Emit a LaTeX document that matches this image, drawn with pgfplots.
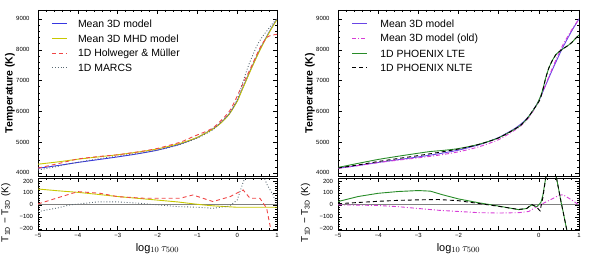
\documentclass[border=0pt]{standalone}
\usepackage{fontspec}
\setmainfont{Liberation Sans}
\usepackage{pgfplots}
\pgfplotsset{compat=1.18}
\definecolor{cblue}{RGB}{55,55,225}
\definecolor{cpurp}{RGB}{105,70,230}
\definecolor{cyel}{RGB}{200,200,0}
\definecolor{cred}{RGB}{240,70,70}
\definecolor{cmarcs}{RGB}{90,105,115}
\definecolor{cmag}{RGB}{215,60,215}
\definecolor{cgreen}{RGB}{40,140,40}
\tikzset{legtext/.style={anchor=west, inner sep=0pt, font=\fontsize{10.5}{11}\selectfont}}

\pgfplotstableread{
x T
-5 4150
-4.5 4240
-4 4340
-3.5 4430
-3 4520
-2.5 4620
-2 4740
-1.5 4910
-1.25 5020
-1 5150
-0.8 5290
-0.6 5440
-0.4 5640
-0.2 5920
0 6340
0.1 6640
0.2 6940
0.3 7240
0.4 7530
0.55 7950
0.7 8330
0.85 8680
1 9000
}\tblue
\pgfplotstableread{
x T d
-5 4283 133
-4.5 4358 118
-4 4445 105
-3.5 4518 88
-3 4590 70
-2.5 4675 55
-2 4780 40
-1.5 4935 25
-1.25 5035 15
-1 5155 5
-0.8 5288 -2
-0.6 5432 -8
-0.4 5628 -12
-0.2 5904 -16
0 6320 -20
0.1 6620 -20
0.2 6920 -20
0.3 7220 -20
0.4 7510 -20
0.55 7930 -20
0.7 8310 -20
0.85 8660 -20
1 8980 -20
}\tmhd
\pgfplotstableread{
x T d
-5 4158 8
-4.5 4300 60
-4 4451 111
-3.44 4538 97
-3 4589 69
-2.36 4710 56
-2 4796 56
-1.43 4997 56
-1.11 5176 83
-0.61 5461 28
-0.18 6031 69
0.15 6915 125
0.32 7354 56
0.57 8056 56
0.74 8395 -28
0.87 8473 -250
1 8500 -500
}\thm
\pgfplotstableread{
x T d
-5 4094 -56
-4.5 4215 -25
-4.2 4300 0
-3.5 4455 25
-3 4545 25
-2.5 4635 15
-2 4740 0
-1.5 4896 -14
-1 5130 -20
-0.6 5412 -28
-0.2 5910 -10
0 6380 40
0.15 6980 190
0.3 7540 300
0.5 8140 330
0.65 8453 250
0.75 8617 170
0.9 8870 83
1 9000 0
}\tmarcs
\pgfplotstableread{
x T d
-5 4150 0
-4.5 4238 -2
-4 4335 -5
-3.5 4415 -15
-3 4490 -30
-2.5 4575 -45
-2 4685 -55
-1.5 4845 -65
-1 5082 -68
-0.5 5475 -65
-0.25 5795 -55
0 6335 -5
0.3 7285 45
0.5 7890 80
0.6 8162 85
0.8 8608 45
1 9000 0
}\told
\pgfplotstableread{
x T d
-5 4178 28
-4.5 4310 70
-4 4437 97
-3.5 4542 112
-3 4640 120
-2.7 4695 115
-2.4 4729 85
-2 4790 50
-1.5 4928 18
-1 5140 -10
-0.5 5500 -40
-0.3 5750 -30
-0.18 5962 0
-0.05 6220 -15
0.05 6510 20
0.1 6720 80
0.17 7075 225
0.25 7410 320
0.35 7685 300
0.44 7867 225
0.5 7930 120
0.55 7980 30
0.6 8027 -50
0.69 8105 -200
0.8 8213 -350
1 8480 -520
}\tlte
\pgfplotstableread{
x T d
-5 4160 10
-4.5 4260 20
-4 4370 30
-3.5 4468 38
-3 4562 42
-2.5 4665 45
-2 4775 35
-1.5 4922 12
-1 5138 -12
-0.5 5502 -38
-0.3 5750 -30
-0.18 5967 5
-0.05 6215 -20
0.03 6380 -50
0.1 6700 60
0.17 7075 225
0.25 7410 320
0.35 7685 300
0.44 7867 225
0.5 7930 120
0.55 7980 30
0.6 8027 -50
0.69 8105 -200
0.8 8213 -350
1 8480 -520
}\tnlte

\pgfplotsset{
  panel/.style={scale only axis, width=239bp, anchor=south west,
    tick align=inside, xmin=-5, xmax=1, xtick={-5,-4,-3,-2,-1,0,1},
    minor x tick num=4, major tick length=4bp, minor tick length=2bp,
    tick label style={font=\fontsize{6}{7}\selectfont},
    every tick/.style={black, line width=0.4pt},
    axis line style={line width=0.6pt},
    every axis plot/.append style={line width=0.9pt},
  },
  toppanel/.style={panel, height=166bp, ymin=3900, ymax=9290,
    ytick={4000,5000,6000,7000,8000,9000},
    yticklabels={4000,5000,6000,7000,8000,9000},
    yticklabel style={xshift=-5bp},
    minor y tick num=4, xticklabels={},
    ylabel={\bfseries Temperature (K)},
    every axis y label/.style={at={(axis description cs:-0.117,0.5)}, rotate=90, anchor=center, font=\fontsize{10.5}{11}\selectfont},
  },
  botpanel/.style={panel, height=52bp, ymin=-210, ymax=225,
    ytick={-200,-100,0,100,200},
    yticklabels={−200,−100,0,100,200},
    yticklabel style={xshift=-1.5bp},
    minor y tick num=4,
    xlabel={log$_{10}\,\tau_{500}$},
    every axis x label/.style={at={(axis description cs:0.5,-0.35)}, anchor=center, font=\fontsize{11}{12}\selectfont},
    ylabel={T$_{\mathrm{1D}}$ − T$_{\mathrm{3D}}$ (K)},
    every axis y label/.style={at={(axis description cs:-0.135,0.33)}, rotate=90, anchor=center, font=\fontsize{10}{11}\selectfont},
  },
}

\begin{document}
\begin{tikzpicture}
\path[use as bounding box] (0,0) rectangle (600bp,256bp);

% left top
\begin{axis}[toppanel, at={(38bp,80bp)}]
\addplot[draw=cblue, smooth, tension=0.4] table[x=x,y=T] {\tblue};
\addplot[draw=cyel, smooth, tension=0.4] table[x=x,y=T] {\tmhd};
\addplot[draw=cred, dash pattern=on 4bp off 3bp, smooth, tension=0.4] table[x=x,y=T] {\thm};
\addplot[draw=cmarcs, dotted, smooth, tension=0.4] table[x=x,y=T] {\tmarcs};
% legend samples
\addplot[draw=cblue] coordinates {(-4.65,8838) (-4.27,8838)};
\addplot[draw=cyel] coordinates {(-4.65,8351) (-4.27,8351)};
\addplot[draw=cred, dash pattern=on 4bp off 3bp] coordinates {(-4.65,7864) (-4.27,7864)};
\addplot[draw=cmarcs, dotted] coordinates {(-4.65,7409) (-4.27,7409)};
\node[legtext] at (axis cs:-4.0,8838) {Mean 3D model};
\node[legtext] at (axis cs:-4.0,8351) {Mean 3D MHD model};
\node[legtext] at (axis cs:-4.0,7864) {1D Holweger \& Müller};
\node[legtext] at (axis cs:-4.0,7409) {1D MARCS};
\end{axis}

% left bottom
\begin{axis}[botpanel, at={(38bp,26bp)}, xticklabels={−5,−4,−3,−2,−1,0,1}]
\addplot[draw=gray, line width=1pt] coordinates {(-5,0) (1,0)};
\addplot[draw=cyel] table[x=x,y=d] {\tmhd};
\addplot[draw=cred, dash pattern=on 4bp off 3bp] table[x=x,y=d] {\thm};
\addplot[draw=cmarcs, dotted] table[x=x,y=d] {\tmarcs};
\end{axis}

% right top
\begin{axis}[toppanel, at={(338bp,80bp)}, width=241bp]
\addplot[draw=cpurp, smooth, tension=0.4] table[x=x,y=T] {\tblue};
\addplot[draw=cmag, dash pattern=on 4bp off 2bp on 1bp off 2bp, smooth, tension=0.4] table[x=x,y=T] {\told};
\addplot[draw=cgreen, smooth, tension=0.4] table[x=x,y=T] {\tlte};
\addplot[draw=black, dash pattern=on 4bp off 3bp, smooth, tension=0.4] table[x=x,y=T] {\tnlte};
% legend samples
\addplot[draw=cpurp] coordinates {(-4.65,8838) (-4.28,8838)};
\addplot[draw=cmag, dash pattern=on 4bp off 2bp on 1bp off 2bp] coordinates {(-4.65,8351) (-4.28,8351)};
\addplot[draw=cgreen] coordinates {(-4.65,7864) (-4.28,7864)};
\addplot[draw=black, dash pattern=on 4bp off 3bp] coordinates {(-4.65,7409) (-4.28,7409)};
\node[legtext] at (axis cs:-3.95,8838) {Mean 3D model};
\node[legtext] at (axis cs:-3.95,8351) {Mean 3D model (old)};
\node[legtext] at (axis cs:-3.95,7864) {1D PHOENIX LTE};
\node[legtext] at (axis cs:-3.95,7409) {1D PHOENIX NLTE};
\end{axis}

% right bottom
\begin{axis}[botpanel, at={(338bp,26bp)}, width=241bp, xticklabels={−5,−4,−3,−2,,0,1}]
\addplot[draw=gray, line width=1pt] coordinates {(-5,0) (1,0)};
\addplot[draw=cmag, dash pattern=on 4bp off 2bp on 1bp off 2bp] table[x=x,y=d] {\told};
\addplot[draw=cgreen] table[x=x,y=d] {\tlte};
\addplot[draw=black, dash pattern=on 4bp off 3bp] table[x=x,y=d] {\tnlte};
\end{axis}
\end{tikzpicture}
\end{document}
